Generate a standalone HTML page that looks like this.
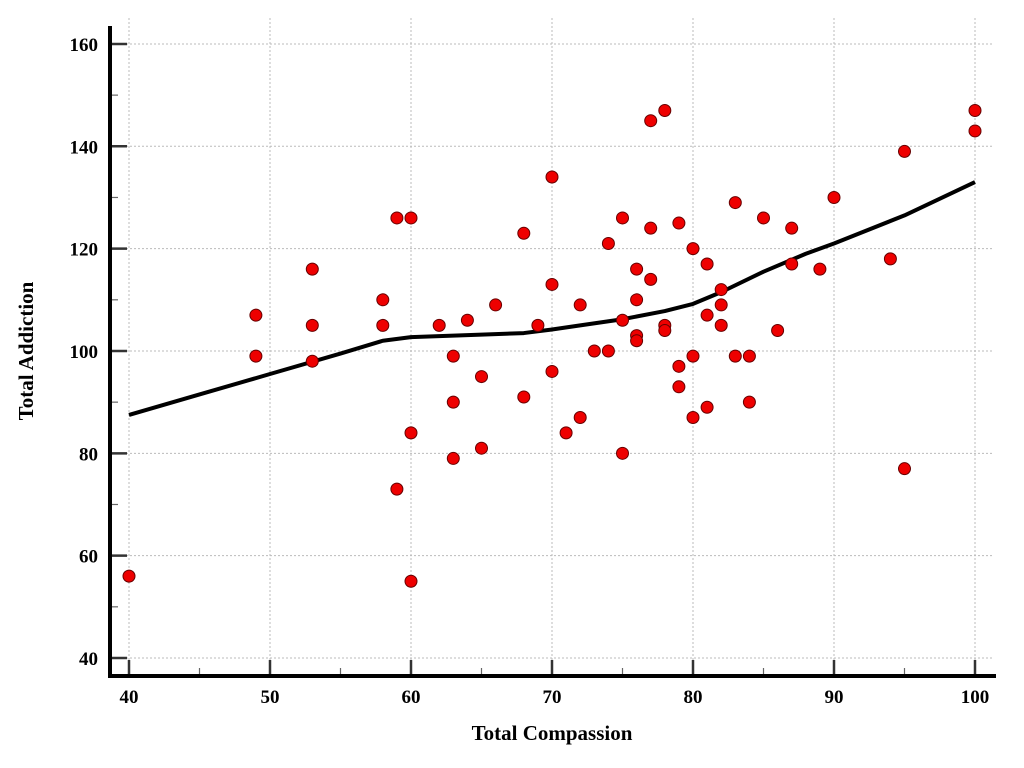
<!DOCTYPE html>
<html><head><meta charset="utf-8"><style>body{margin:0;background:#fff}svg{display:block}</style></head>
<body>
<svg id="chart" width="1024" height="768" xmlns="http://www.w3.org/2000/svg" font-family="Liberation Serif, serif" font-weight="bold">
<g id="grid"></g>
<g id="axes"></g>
<g id="fit"></g>
<g id="pts"></g>
<text x="552" y="740" font-size="21" text-anchor="middle">Total Compassion</text>
<text transform="translate(33,351) rotate(-90)" font-size="21" text-anchor="middle">Total Addiction</text>
</svg>
<script>
const xs=[40,49,49,53,53,53,58,58,59,60,59,60,60,62,63,63,63,64,65,65,66,68,68,69,70,70,70,71,72,72,73,74,74,75,75,75,76,76,76,76,77,77,77,78,78,78,79,79,79,80,80,80,81,81,81,82,82,82,83,83,84,84,85,86,87,87,89,90,94,95,95,100,100];
const ys=[56,107,99,116,105,98,110,105,126,126,73,84,55,105,99,90,79,106,95,81,109,123,91,105,134,113,96,84,109,87,100,121,100,126,106,80,116,110,103,102,145,124,114,147,105,104,125,97,93,120,99,87,117,107,89,112,109,105,129,99,99,90,126,104,124,117,116,130,118,139,77,147,143];
const fitX=[40,45,50,55,58,60,65,68,70,72,75,78,80,82,85,88,90,95,100];
const fitY=[87.5,91.5,95.5,99.5,102,102.7,103.2,103.5,104.2,105,106.2,107.8,109.2,111.5,115.5,119,121,126.5,133];
const xTicks=[40,50,60,70,80,90,100];
const yTicks=[40,60,80,100,120,140,160];
const NS='http://www.w3.org/2000/svg';
const X=v=>129+(v-40)*14.1, Y=v=>658-(v-40)*5.117;
function mk(p,t,a){const e=document.createElementNS(NS,t);for(const k in a)e.setAttribute(k,a[k]);p.appendChild(e);return e;}
const g=document.getElementById('grid'),ax=document.getElementById('axes');
xTicks.forEach(v=>{const l=mk(g,'line',{x1:X(v),x2:X(v),y1:18,y2:676,stroke:'#bbb','stroke-dasharray':'2,2'});

const t=mk(ax,'line',{x1:X(v),x2:X(v),y1:676,y2:660,stroke:'#333','stroke-width':2.5});

const m=mk(ax,'line',{x1:X(v+5),x2:X(v+5),y1:676,y2:668,stroke:'#666','stroke-width':1.2});

const tx=mk(ax,'text',{x:X(v),y:703,'font-size':19,'text-anchor':'middle'});tx.textContent=v;
});
yTicks.forEach(v=>{const l=mk(g,'line',{x1:110,x2:993,y1:Y(v),y2:Y(v),stroke:'#bbb','stroke-dasharray':'2,2'});

const t=mk(ax,'line',{x1:110,x2:127,y1:Y(v),y2:Y(v),stroke:'#333','stroke-width':2.5});

if(v<160){const m=mk(ax,'line',{x1:110,x2:118,y1:Y(v+10),y2:Y(v+10),stroke:'#666','stroke-width':1.2});
}
const tx=mk(ax,'text',{x:98,y:Y(v)+7,'font-size':19,'text-anchor':'end'});tx.textContent=v;
});
const a1=mk(ax,'line',{x1:110,x2:110,y1:26,y2:678,stroke:'#000','stroke-width':4});

const a2=mk(ax,'line',{x1:108,x2:996,y1:676,y2:676,stroke:'#000','stroke-width':4});

const fp=mk(document.getElementById('fit'),'polyline',{points:fitX.map((v,i)=>X(v)+','+Y(fitY[i])).join(' '),fill:'none',stroke:'#000','stroke-width':4,'stroke-linejoin':'round'});

const pg=document.getElementById('pts');
xs.forEach((v,i)=>{const c=mk(pg,'circle',{cx:X(v),cy:Y(ys[i]),r:6,fill:'#e00',stroke:'#600','stroke-width':1});
});
</script>
</body></html>
